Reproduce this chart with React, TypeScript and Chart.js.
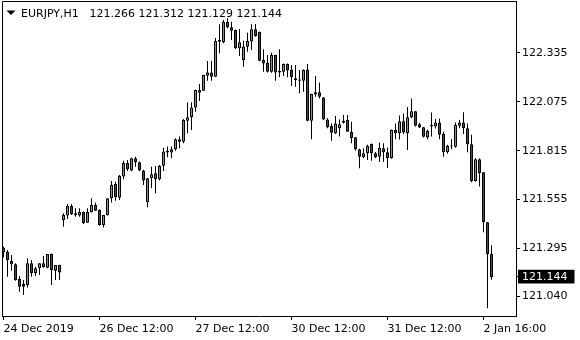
import React, { useEffect, useRef } from 'react';
import { Chart, registerables } from 'chart.js';

Chart.register(...registerables);

const symbolName = 'EURJPY,H1';

const opens = [
  121.299, 121.278, 121.229, 121.211, 121.133, 121.106, 121.101, 121.216, 121.165, 121.190,
  121.216, 121.193, 121.266, 121.177, 121.207, 121.447, 121.470, 121.521, 121.482, 121.470,
  121.489, 121.432, 121.488, 121.526, 121.500, 121.420, 121.472, 121.562, 121.638, 121.565,
  121.677, 121.750, 121.709, 121.775, 121.754, 121.709, 121.541, 121.668, 121.695, 121.663,
  121.735, 121.805, 121.805, 121.823, 121.876, 121.863, 121.974, 121.992, 122.045, 122.123,
  122.134, 122.213, 122.231, 122.208, 122.394, 122.391, 122.501, 122.471, 122.457, 122.359,
  122.297, 122.368, 122.395, 122.460, 122.446, 122.297, 122.282, 122.235, 122.323, 122.231,
  122.235, 122.276, 122.247, 122.200, 122.194, 122.187, 122.247, 121.974, 122.114, 122.125,
  122.098, 121.981, 121.946, 121.907, 121.934, 121.963, 121.978, 121.916, 121.886, 121.823,
  121.780, 121.801, 121.851, 121.801, 121.782, 121.828, 121.806, 121.775, 121.925, 121.907,
  121.971, 121.907, 121.992, 122.024, 121.955, 121.939, 121.885, 121.943, 121.943, 121.965,
  121.904, 121.806, 121.837, 121.836, 121.947, 121.965, 121.934, 121.849, 121.654, 121.770,
  121.700, 121.434, 121.266,
];

const highs = [
  121.305, 121.287, 121.260, 121.216, 121.149, 121.128, 121.243, 121.234, 121.198, 121.216,
  121.255, 121.266, 121.268, 121.207, 121.209, 121.482, 121.532, 121.532, 121.509, 121.509,
  121.492, 121.509, 121.562, 121.539, 121.504, 121.473, 121.562, 121.654, 121.650, 121.686,
  121.762, 121.766, 121.777, 121.783, 121.757, 121.713, 121.670, 121.730, 121.734, 121.739,
  121.831, 121.837, 121.837, 121.881, 121.890, 121.983, 122.072, 122.072, 122.139, 122.169,
  122.219, 122.292, 122.293, 122.414, 122.487, 122.510, 122.519, 122.501, 122.459, 122.462,
  122.399, 122.442, 122.487, 122.488, 122.448, 122.354, 122.323, 122.336, 122.325, 122.354,
  122.279, 122.279, 122.270, 122.270, 122.244, 122.247, 122.276, 122.118, 122.212, 122.177,
  122.100, 121.987, 121.960, 121.999, 121.981, 122.004, 122.004, 121.969, 121.888, 121.825,
  121.828, 121.846, 121.853, 121.808, 121.859, 121.854, 121.832, 121.928, 121.960, 122.002,
  122.012, 122.047, 122.093, 122.026, 121.964, 121.941, 121.927, 122.018, 121.983, 121.986,
  121.916, 121.846, 121.877, 121.965, 121.978, 122.019, 121.960, 121.899, 121.775, 121.775,
  121.702, 121.436, 121.312,
];

const lows = [
  121.248, 121.145, 121.177, 121.124, 121.065, 121.048, 121.087, 121.145, 121.149, 121.154,
  121.193, 121.190, 121.101, 121.128, 121.128, 121.411, 121.452, 121.473, 121.464, 121.464,
  121.425, 121.430, 121.486, 121.494, 121.416, 121.406, 121.470, 121.539, 121.549, 121.553,
  121.663, 121.707, 121.705, 121.730, 121.705, 121.633, 121.514, 121.615, 121.589, 121.656,
  121.707, 121.780, 121.775, 121.815, 121.828, 121.854, 121.907, 121.925, 122.022, 122.079,
  122.132, 122.187, 122.187, 122.206, 122.332, 122.386, 122.466, 122.403, 122.356, 122.318,
  122.261, 122.341, 122.350, 122.421, 122.290, 122.235, 122.231, 122.229, 122.187, 122.206,
  122.212, 122.205, 122.159, 122.155, 122.120, 122.128, 121.972, 121.876, 122.102, 122.093,
  121.978, 121.934, 121.868, 121.903, 121.890, 121.960, 121.914, 121.854, 121.815, 121.722,
  121.775, 121.766, 121.762, 121.775, 121.755, 121.755, 121.723, 121.772, 121.876, 121.875,
  121.903, 121.819, 121.987, 121.944, 121.935, 121.885, 121.876, 121.890, 121.933, 121.876,
  121.783, 121.798, 121.823, 121.831, 121.934, 121.903, 121.807, 121.647, 121.650, 121.624,
  121.381, 120.977, 121.129,
];

const closes = [
  121.275, 121.234, 121.211, 121.128, 121.092, 121.092, 121.216, 121.165, 121.190, 121.216,
  121.195, 121.266, 121.181, 121.207, 121.167, 121.473, 121.521, 121.477, 121.472, 121.489,
  121.429, 121.489, 121.526, 121.496, 121.420, 121.473, 121.562, 121.633, 121.567, 121.681,
  121.750, 121.716, 121.775, 121.754, 121.709, 121.656, 121.668, 121.690, 121.663, 121.735,
  121.810, 121.815, 121.823, 121.876, 121.863, 121.978, 121.992, 122.045, 122.137, 122.137,
  122.217, 122.231, 122.208, 122.398, 122.403, 122.501, 122.471, 122.453, 122.359, 122.391,
  122.369, 122.398, 122.460, 122.425, 122.293, 122.279, 122.235, 122.323, 122.231, 122.238,
  122.276, 122.241, 122.205, 122.191, 122.187, 122.244, 121.974, 122.116, 122.125, 122.102,
  121.981, 121.939, 121.910, 121.960, 121.955, 121.974, 121.916, 121.881, 121.823, 121.783,
  121.801, 121.840, 121.801, 121.780, 121.830, 121.806, 121.775, 121.925, 121.907, 121.971,
  121.911, 121.992, 122.024, 121.948, 121.938, 121.889, 121.919, 121.951, 121.965, 121.899,
  121.806, 121.840, 121.840, 121.951, 121.965, 121.934, 121.849, 121.654, 121.770, 121.695,
  121.434, 121.266, 121.144,
];

const xTickIndices = [0, 24, 48, 72, 96, 120];
const xTickLabels = ['24 Dec 2019', '26 Dec 12:00', '27 Dec 12:00', '30 Dec 12:00', '31 Dec 12:00', '2 Jan 16:00'];
const yTickValues = [122.335, 122.075, 121.815, 121.555, 121.295, 121.04];

const X_MIN = -0.375;
const X_MAX = 128.125;
const Y_MIN = 120.936;
const Y_MAX = 122.6107;

const GREEN = '#32CD32';
const RED = '#FF0000';
const FONT_FAMILY = '"DejaVu Sans", sans-serif';

const lastIdx = closes.length - 1;
const currentPrice = closes[lastIdx];
const ohlcText = [opens[lastIdx], highs[lastIdx], lows[lastIdx], closes[lastIdx]]
  .map((v) => v.toFixed(3))
  .join(' ');

const framePlugin = {
  id: 'mtFrame',
  afterDraw(chart: any) {
    const { ctx, chartArea: a } = chart;
    ctx.save();
    ctx.strokeStyle = '#000';
    ctx.lineWidth = 1;
    ctx.beginPath();
    ctx.moveTo(a.left + 0.5, a.bottom + 1);
    ctx.lineTo(a.left + 0.5, a.top + 0.5);
    ctx.lineTo(a.right + 1, a.top + 0.5);
    ctx.stroke();
    // dropdown triangle
    ctx.fillStyle = '#000';
    ctx.beginPath();
    ctx.moveTo(6.5, 10.5);
    ctx.lineTo(15.5, 10.5);
    ctx.lineTo(11, 15);
    ctx.closePath();
    ctx.fill();
    ctx.font = '11px ' + FONT_FAMILY;
    ctx.textBaseline = 'alphabetic';
    ctx.textAlign = 'left';
    ctx.fillText(symbolName, 21, 16.5);
    ctx.fillText(ohlcText, 89.5, 16.5);
    ctx.restore();
  },
};

export default function App() {
  const ref = useRef<HTMLCanvasElement | null>(null);

  useEffect(() => {
    const canvas = ref.current;
    if (!canvas) return;
    const font = { family: FONT_FAMILY, size: 11 };
    const chart = new Chart(canvas, {
      type: 'bar',
      data: {
        datasets: [
          {
            label: 'bodies',
            data: opens.map((o, i) => ({ x: i, y: [o, closes[i]] })) as any,
            backgroundColor: opens.map((o, i) => (closes[i] >= o ? GREEN : RED)),
            borderColor: '#000',
            borderWidth: 1,
            borderSkipped: false,
            barThickness: 3,
            minBarLength: 1,
            grouped: false,
            inflateAmount: 0,
            order: 1,
          } as any,
          {
            label: 'wicks',
            data: lows.map((l, i) => ({ x: i, y: [l, highs[i]] })) as any,
            backgroundColor: '#000',
            borderWidth: 0,
            barThickness: 1,
            grouped: false,
            inflateAmount: 0,
            order: 2,
          } as any,
        ],
      },
      options: {
        responsive: false,
        animation: false,
        events: [],
        layout: { padding: { left: 2, top: 1, right: 0, bottom: 0 } },
        plugins: {
          legend: { display: false },
          tooltip: { enabled: false },
          title: { display: false },
        },
        scales: {
          x: {
            type: 'linear',
            min: X_MIN,
            max: X_MAX,
            offset: false,
            grid: {
              display: true,
              drawOnChartArea: false,
              drawTicks: true,
              tickLength: 4,
              color: '#000',
              offset: false,
            },
            border: { display: true, color: '#000', width: 1 },
            afterBuildTicks: (s: any) => {
              s.ticks = xTickIndices.map((v) => ({ value: v }));
            },
            afterFit: (s: any) => {
              s.height = 24;
              s.paddingLeft = 0;
              s.paddingRight = 0;
              s.paddingTop = 0;
              s.paddingBottom = 0;
            },
            ticks: {
              autoSkip: false,
              maxRotation: 0,
              minRotation: 0,
              align: 'start',
              padding: 3,
              color: '#000',
              font,
              callback: (_v: any, idx: number) => xTickLabels[idx],
            },
          } as any,
          y: {
            type: 'linear',
            position: 'right',
            min: Y_MIN,
            max: Y_MAX,
            grid: {
              display: true,
              drawOnChartArea: false,
              drawTicks: true,
              tickLength: 4,
              color: '#000',
            },
            border: { display: true, color: '#000', width: 1 },
            afterBuildTicks: (s: any) => {
              s.ticks = [...yTickValues, currentPrice].map((v) => ({ value: v }));
            },
            afterFit: (s: any) => {
              s.width = 64;
              s.paddingLeft = 0;
              s.paddingRight = 0;
              s.paddingTop = 0;
              s.paddingBottom = 0;
            },
            ticks: {
              autoSkip: false,
              padding: 2,
              font,
              color: (c: any) => (c.tick && c.tick.value === currentPrice ? '#fff' : '#000'),
              callback: (v: any) => Number(v).toFixed(3),
              showLabelBackdrop: (c: any) => !!(c.tick && c.tick.value === currentPrice),
              backdropColor: '#000',
              backdropPadding: { left: 4, right: 7, top: 0.5, bottom: 0 },
            },
          } as any,
        },
      },
      plugins: [framePlugin as any],
    } as any);
    return () => chart.destroy();
  }, []);

  return (
    <div style={{ position: 'absolute', left: 0, top: 0, width: 580, height: 340, background: '#fff' }}>
      <canvas ref={ref} width={580} height={340} style={{ display: 'block' }} />
    </div>
  );
}
